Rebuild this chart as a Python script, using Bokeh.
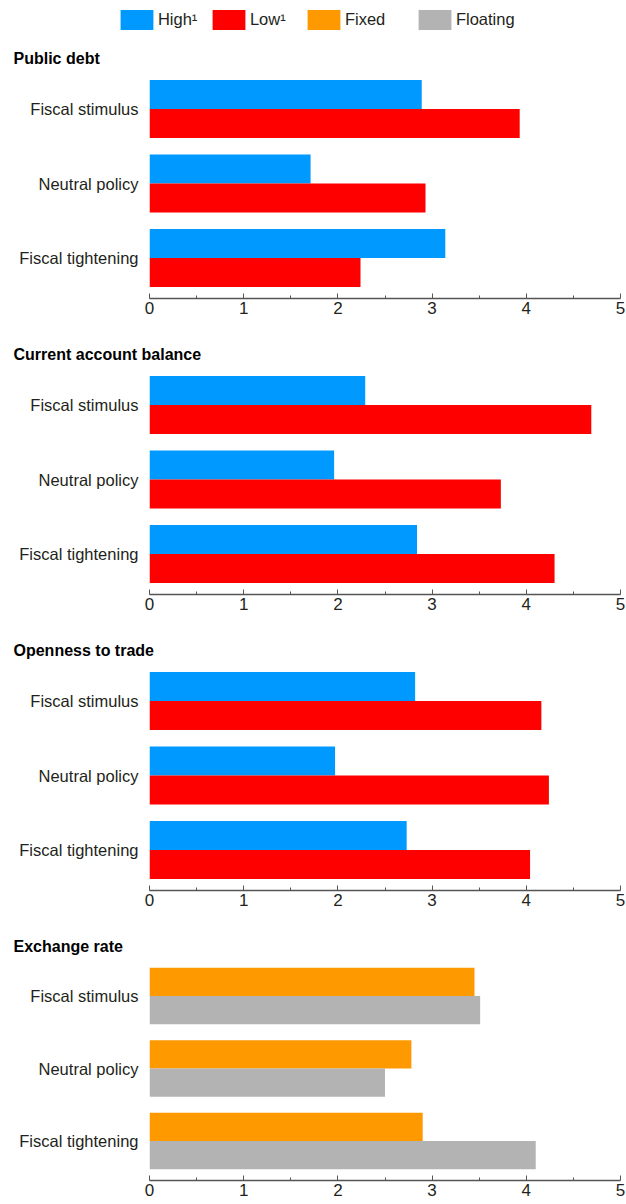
from bokeh.plotting import figure
from bokeh.models import (FactorRange, Range1d, FixedTicker, Legend, LegendItem,
                          ColumnDataSource)
from bokeh.transform import dodge
from bokeh.layouts import column
from bokeh.embed import file_html
from bokeh.resources import INLINE

# ---------------- data ----------------
categories = ["Fiscal stimulus", "Neutral policy", "Fiscal tightening"]

debt_high = [2.89, 1.71, 3.14]
debt_low = [3.93, 2.93, 2.24]

ca_high = [2.29, 1.96, 2.84]
ca_low = [4.69, 3.73, 4.30]

trade_high = [2.82, 1.97, 2.73]
trade_low = [4.16, 4.24, 4.04]

fx_fixed = [3.45, 2.78, 2.90]
fx_floating = [3.51, 2.50, 4.10]

panel_titles = ["Public debt", "Current account balance", "Openness to trade", "Exchange rate"]
series_names = ["High\u00b9", "Low\u00b9", "Fixed", "Floating"]
x_ticks = [0, 1, 2, 3, 4, 5]
x_minor = [0.5, 1.5, 2.5, 3.5, 4.5]

# ---------------- style ----------------
BLUE = "#0099FF"
RED = "#FF0000"
ORANGE = "#FF9900"
GRAY = "#B3B3B3"
TEXT = "#231F20"
FONT = "Liberation Sans, Arial, sans-serif"

W = 626
LEFT = 149
FRAME_W = 471
TOP = 23


def make_panel(title, first, second, c1, c2, frame_h, bottom):
    src = ColumnDataSource(dict(cat=categories, a=first, b=second))
    p = figure(y_range=FactorRange(factors=categories[::-1], range_padding=0.045,
                                   range_padding_units="absolute"),
               x_range=Range1d(0, 5),
               width=W, frame_width=FRAME_W, frame_height=frame_h,
               min_border_left=LEFT, min_border_right=W - LEFT - FRAME_W,
               min_border_top=TOP, min_border_bottom=bottom,
               output_backend="svg", toolbar_location=None, tools="")
    p.hbar(y=dodge("cat", 0.195, range=p.y_range), right="a", height=0.39,
           source=src, fill_color=c1, line_color=None)
    p.hbar(y=dodge("cat", -0.195, range=p.y_range), right="b", height=0.39,
           source=src, fill_color=c2, line_color=None)

    p.title.text = title
    p.title.text_font = FONT
    p.title.text_font_size = "16px"
    p.title.text_font_style = "bold"
    p.title.text_color = "#000000"
    p.title.align = "left"
    p.title.offset = 13 - LEFT
    p.title.standoff = 3

    p.outline_line_color = None
    p.xgrid.grid_line_color = None
    p.ygrid.grid_line_color = None

    xa = p.xaxis[0]
    xa.ticker = FixedTicker(ticks=x_ticks, minor_ticks=x_minor)
    xa.axis_line_color = "#555555"
    xa.axis_line_width = 1.3
    xa.major_tick_line_color = "#555555"
    xa.minor_tick_line_color = "#555555"
    xa.major_tick_in = 5
    xa.major_tick_out = 0
    xa.minor_tick_in = 3
    xa.minor_tick_out = 0
    xa.major_label_standoff = 3
    xa.major_label_text_font = FONT
    xa.major_label_text_font_size = "17px"
    xa.major_label_text_color = TEXT

    ya = p.yaxis[0]
    ya.axis_line_color = None
    ya.major_tick_line_color = None
    ya.minor_tick_line_color = None
    ya.major_label_standoff = 5
    ya.major_label_text_font = FONT
    ya.major_label_text_font_size = "16.5px"
    ya.major_label_text_color = TEXT
    return p


p1 = make_panel(panel_titles[0], debt_high, debt_low, BLUE, RED, 230, 43)
p2 = make_panel(panel_titles[1], ca_high, ca_low, BLUE, RED, 230, 43)
p3 = make_panel(panel_titles[2], trade_high, trade_low, BLUE, RED, 230, 43)
p4 = make_panel(panel_titles[3], fx_fixed, fx_floating, ORANGE, GRAY, 224, 24)

# ---------------- legend strip (its own root, so its frame spans the page) ----------------
LG_H = 45
lg = figure(frame_width=W, frame_height=LG_H, min_border=0,
            x_range=Range1d(0, 1), y_range=Range1d(0, 1),
            x_axis_type=None, y_axis_type=None,
            output_backend="svg", toolbar_location=None, tools="")
lg.outline_line_color = None
lg.grid.visible = False
legend_colors = [BLUE, RED, ORANGE, GRAY]
legend_box_left = [120, 212, 307, 418]   # page x of each swatch
GW, GH = 41, 25                           # swatch drawn at 80% of this area
for name, col, bx in zip(series_names, legend_colors, legend_box_left):
    # zero-width bar: only its legend swatch is seen
    r = lg.hbar(y=[0.5], left=[0], right=[0], height=0.5, fill_color=col, line_color=None)
    leg = Legend(items=[LegendItem(label=name, renderers=[r])],
                 location=(bx - 0.1 * GW, LG_H - 6.5 - GH),
                 orientation="horizontal",
                 glyph_width=GW, glyph_height=GH, label_standoff=1,
                 padding=0, margin=0, border_line_color=None,
                 background_fill_alpha=0, label_text_font=FONT,
                 label_text_font_size="16.5px", label_text_color=TEXT,
                 label_height=GH)
    lg.add_layout(leg, "center")

panels = column(p1, p2, p3, p4, spacing=0)
open("out.html", "w").write(file_html([lg, panels], INLINE))
